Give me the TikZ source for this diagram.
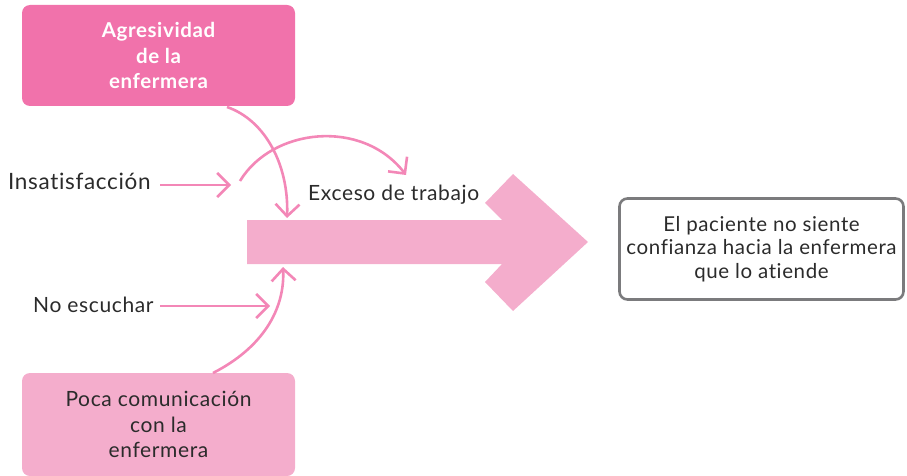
\documentclass[tikz,border=0pt]{standalone}
\usepackage{fontspec}
\setmainfont{Lato}[LetterSpace=3,Ligatures={NoCommon}]
\usetikzlibrary{arrows.meta}
\definecolor{hotpink}{HTML}{F172AB}
\definecolor{softpink}{HTML}{F4ADCC}
\definecolor{linepink}{HTML}{F387B7}
\definecolor{boxgray}{HTML}{7B7B7D}
\definecolor{txt}{HTML}{2B2B2B}
\tikzset{
  conn/.style={draw=linepink, line width=2.6pt, -{Straight Barb[length=12pt,width=24pt,line width=2.6pt]}},
  pinkbox/.style={rounded corners=8pt, minimum width=273pt, align=center, inner sep=0pt},
  lbl/.style={text=txt, font=\fontsize{21}{24}\selectfont, inner sep=0pt, anchor=base west},
}
\begin{document}
\begin{tikzpicture}[x=1pt,y=-1pt]
\useasboundingbox (0,0) rectangle (907,476);
% boxes
\node[pinkbox, fill=hotpink, minimum height=101pt, text=white,
      font=\fontsize{20.5}{25.5}\selectfont\bfseries] (agr) at (158.5,55.5)
      {Agresividad\\de la\\enfermera};
\node[pinkbox, fill=softpink, minimum height=103pt, text=txt,
      font=\fontsize{21}{25.5}\selectfont] (poca) at (158.5,424.5)
      {Poca comunicación\\con la\\enfermera};
\node[draw=boxgray, line width=2.6pt, rounded corners=8pt, minimum width=284pt,
      minimum height=101pt, align=center, text=txt, inner sep=0pt,
      font=\fontsize{20.5}{23.5}\selectfont] (res) at (761.5,249)
      {El paciente no siente\\confianza hacia la enfermera\\que lo atiende};
% big arrow
\fill[softpink] (247,220) -- (502,220) -- (485,203) -- (513,174) -- (588,242)
  -- (513,311) -- (485,282) -- (502,264) -- (247,264) -- cycle;
\coordinate (shafttop) at (287,218);
\coordinate (shaftbot) at (283,267);
% labels
\node[lbl, font=\fontsize{22.5}{26}\selectfont] (ins) at (8,189) {Insatisfacción};
\node[lbl] (noe) at (33,312) {No escuchar};
\node[lbl] (exc) at (308,200) {Exceso de trabajo};
\coordinate (insA) at (160,185);
\coordinate (insB) at (231,185);
\coordinate (noeA) at (160,306);
\coordinate (noeB) at (270,306);
\coordinate (arcS) at (240,181);
\coordinate (arcE) at (406,175);
\coordinate (agrS) at (227,107);
\coordinate (pocS) at (213,373);
% connectors
\draw[conn] (insA) -- (insB);
\draw[conn] (noeA) -- (noeB);
\draw[conn] (agrS) .. controls (265,120) and (289,165) .. (shafttop);
\draw[conn] (arcS) .. controls (272,128) and (362,118) .. (arcE);
\draw[conn] (pocS) .. controls (262,348) and (285,310) .. (shaftbot);
\end{tikzpicture}
\end{document}
